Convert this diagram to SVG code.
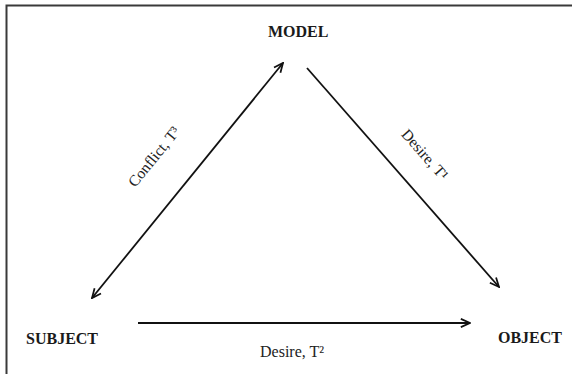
<svg xmlns="http://www.w3.org/2000/svg" width="572" height="374" viewBox="0 0 572 374">
<style>
.node{font-family:"Liberation Serif",serif;font-weight:bold;font-size:16px;fill:#1a1a1a}
.lbl{font-family:"Liberation Serif",serif;font-size:15.5px;fill:#222}
.edge{stroke:#111;stroke-width:1.8;fill:none}
</style>
<defs>
<marker id="arr" markerUnits="userSpaceOnUse" viewBox="0 0 12 12" refX="11" refY="6" markerWidth="11" markerHeight="11" orient="auto-start-reverse">
<path d="M1,1.5 L11,6 L1,10.5" fill="none" stroke="#111" stroke-width="1.9"/>
</marker>
</defs>
<rect width="572" height="374" fill="#fff"/>
<path d="M6.5,374 V5.5 H572" fill="none" stroke="#3a3a3a" stroke-width="2"/>
<g id="connectors">
<line class="edge" x1="92" y1="298" x2="283" y2="63" marker-start="url(#arr)" marker-end="url(#arr)"/>
<line class="edge" x1="307" y1="68" x2="499" y2="287" marker-end="url(#arr)"/>
<line class="edge" x1="138" y1="323" x2="470" y2="323" stroke-width="2.2" marker-end="url(#arr)"/>
<text class="lbl" text-anchor="middle" transform="translate(158,160) rotate(-51)">Conflict, T³</text>
<text class="lbl" text-anchor="middle" transform="translate(421,158) rotate(48.7)">Desire, T¹</text>
<text class="lbl" x="260" y="357" style="font-size:16px">Desire, T²</text>
</g>
<g id="model"><text class="node" x="268" y="37">MODEL</text></g>
<g id="subject"><text class="node" x="26" y="344">SUBJECT</text></g>
<g id="object"><text class="node" x="498" y="343">OBJECT</text></g>
</svg>
